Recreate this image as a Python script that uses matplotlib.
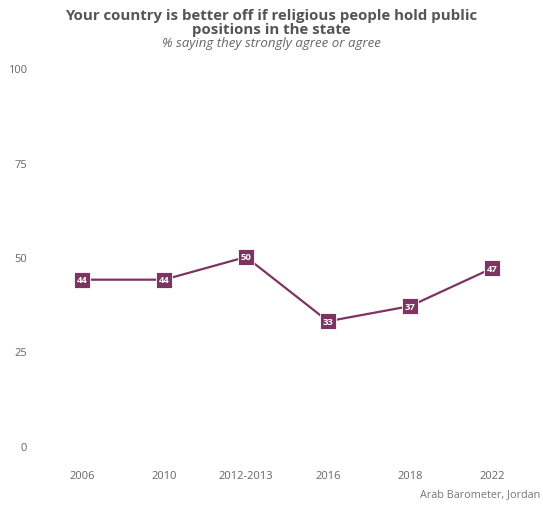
import matplotlib
matplotlib.use("Agg")
import matplotlib.pyplot as plt

plt.rcParams['font.family'] = ['Open Sans', 'DejaVu Sans']

waves = ["2006", "2010", "2012-2013", "2016", "2018", "2022"]
values = [44, 44, 50, 33, 37, 47]
yticks = [0, 25, 50, 75, 100]

line_color = '#7b3560'
text_color = '#666666'

fig = plt.figure(figsize=(5.43, 5.06), dpi=100)
ax = fig.add_axes([41 / 543, 59 / 506, 492 / 543, 378 / 506])

x = list(range(len(waves)))
ax.plot(x, values, color=line_color, linewidth=1.6, zorder=2)
ax.plot(x, values, linestyle='none', marker='s', markersize=12,
        markerfacecolor=line_color, markeredgecolor='white', markeredgewidth=0.6,
        zorder=3, clip_on=False)
for xi, v in zip(x, values):
    ax.text(xi, v, str(v), color='white', fontsize=6.8, fontweight='bold',
            ha='center', va='center', zorder=4)

ax.set_xlim(-0.5, len(waves) - 0.5)
ax.set_ylim(0, 100)
ax.set_xticks(x)
ax.set_xticklabels(waves)
ax.set_yticks(yticks)
ax.tick_params(length=0, colors=text_color, labelsize=8)
ax.tick_params(axis='x', pad=17)
ax.tick_params(axis='y', pad=10)
for s in ax.spines.values():
    s.set_visible(False)

fig.text(0.5, 1 - 16 / 506, "Your country is better off if religious people hold public",
         ha='center', va='center', fontsize=10.8, fontweight='bold', color='#555555')
fig.text(0.5, 1 - 30 / 506, "positions in the state",
         ha='center', va='center', fontsize=10.8, fontweight='bold', color='#555555')
fig.text(0.5, 1 - 44 / 506, "% saying they strongly agree or agree",
         ha='center', va='center', fontsize=9.5, style='italic', color='#666666')
fig.text(1 - 3 / 543, 1 - 495 / 506, "Arab Barometer, Jordan",
         ha='right', va='center', fontsize=7.8, color='#777777')

fig.savefig("out.png", dpi=100)
